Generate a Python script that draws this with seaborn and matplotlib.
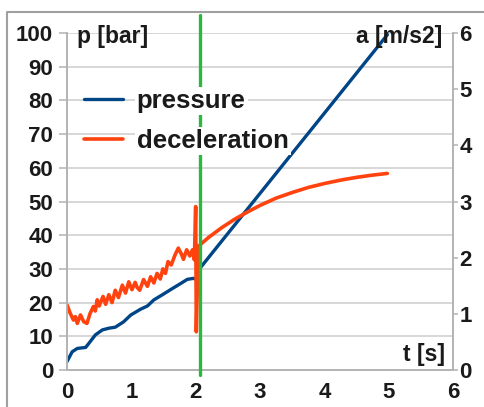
import numpy as np
import pandas as pd
import matplotlib
matplotlib.use("Agg")
import matplotlib.pyplot as plt
from matplotlib.lines import Line2D
import seaborn as sns

# Data
pressure_t = [0.00, 0.08, 0.16, 0.29, 0.36, 0.44, 0.55, 0.65, 0.75, 0.88, 0.99,
              1.14, 1.25, 1.35, 1.48, 1.64, 1.77, 1.87, 1.97, 2.01, 2.05, 4.98]
pressure_bar = [2.5, 5.4, 6.4, 6.7, 8.4, 10.4, 11.9, 12.4, 12.7, 14.3, 16.3,
                18.0, 19.0, 20.8, 22.3, 24.2, 25.7, 26.9, 27.2, 26.8, 29.8, 99.5]

decel_t = [0.00, 0.05, 0.10, 0.13, 0.16, 0.21, 0.26, 0.31, 0.36, 0.41, 0.44,
           0.47, 0.50, 0.56, 0.60, 0.65, 0.70, 0.75, 0.80, 0.86, 0.91, 0.96,
           1.01, 1.06, 1.09, 1.13, 1.19, 1.25, 1.30, 1.35, 1.40, 1.45, 1.49,
           1.53, 1.57, 1.62, 1.68, 1.73, 1.78, 1.81, 1.86, 1.91, 1.95, 1.98,
           2.00, 2.01, 2.04, 2.20, 2.40, 2.60, 2.80, 3.00, 3.25, 3.50, 3.75,
           4.00, 4.25, 4.50, 4.75, 4.98]
decel_ms2 = [1.16, 1.01, 0.89, 0.95, 0.83, 0.98, 0.86, 0.83, 1.01, 1.13, 1.05,
             1.25, 1.14, 1.31, 1.17, 1.34, 1.20, 1.42, 1.29, 1.51, 1.37, 1.57,
             1.43, 1.56, 1.47, 1.42, 1.61, 1.49, 1.66, 1.55, 1.72, 1.62, 1.80,
             1.72, 1.93, 1.87, 2.05, 2.17, 2.06, 1.97, 2.14, 2.03, 2.14, 1.96,
             2.91, 0.68, 2.20, 2.36, 2.53, 2.68, 2.81, 2.93, 3.06, 3.16, 3.25,
             3.32, 3.38, 3.43, 3.47, 3.50]

marker_t = 2.07

p_ticks = [0, 10, 20, 30, 40, 50, 60, 70, 80, 90, 100]
a_ticks = [0, 1, 2, 3, 4, 5, 6]
t_ticks = [0, 1, 2, 3, 4, 5, 6]

BLUE = "#004586"
RED = "#ff420e"
GREEN = "#2db83d"
GRID = "#d4d4d4"
SPINE = "#b3b3b3"
TXT = "#1a1a1a"

sns.set_style("white")
plt.rcParams['font.family'] = ['Liberation Sans', 'DejaVu Sans']

fig = plt.figure(figsize=(4.85, 4.07), dpi=100)
ax = fig.add_axes([67/485, 37/407, 386/485, 337/407])
ax2 = ax.twinx()

p_df = pd.DataFrame({"t": pressure_t, "p": pressure_bar})
a_df = pd.DataFrame({"t": decel_t, "a": decel_ms2})

sns.lineplot(data=p_df, x="t", y="p", ax=ax, color=BLUE, lw=2.4,
             estimator=None, sort=False)
sns.lineplot(data=a_df, x="t", y="a", ax=ax2, color=RED, lw=2.6,
             estimator=None, sort=False)
ax2.axvline(marker_t, ymin=-0.015, ymax=1.053, color=GREEN, lw=2.4,
            clip_on=False, zorder=3)

ax.set_xlim(0, 6)
ax.set_ylim(0, 100)
ax2.set_ylim(0, 6)
ax.set_xticks(t_ticks)
ax.set_yticks(p_ticks)
ax2.set_yticks(a_ticks)
ax.set_xlabel("")
ax.set_ylabel("")
ax2.set_ylabel("")

ax.grid(axis="y", color=GRID, lw=1.3)
ax.set_axisbelow(True)

for a in (ax, ax2):
    a.spines["top"].set_visible(False)
    for s in ("left", "right", "bottom"):
        a.spines[s].set_color(SPINE)
        a.spines[s].set_linewidth(1.2)

ax.tick_params(axis="y", direction="out", length=6, width=1.1, color=SPINE,
               pad=4, labelsize=16, labelcolor=TXT)
ax.tick_params(axis="x", direction="out", length=4, width=1.1, color=SPINE,
               pad=4.5, labelsize=16, labelcolor=TXT)
ax2.tick_params(axis="y", direction="out", length=3.5, width=1.1, color=SPINE,
                pad=1, labelsize=16, labelcolor=TXT)
for lab in ax.get_xticklabels() + ax.get_yticklabels() + ax2.get_yticklabels():
    lab.set_fontweight("bold")

ax2.text(0.026, 0.991, "p [bar]", transform=ax.transAxes, ha="left", va="center",
         fontsize=16.5, fontweight="bold", color=TXT, zorder=6)
ax2.text(0.9715, 0.991, "a [m/s2]", transform=ax.transAxes, ha="right", va="center",
         fontsize=16.5, fontweight="bold", color=TXT, zorder=6)
ax2.text(0.979, 0.045, "t [s]", transform=ax.transAxes, ha="right", va="center",
         fontsize=16.5, fontweight="bold", color=TXT, zorder=6)

handles = [Line2D([], [], color=BLUE, lw=2.4), Line2D([], [], color=RED, lw=2.6)]
leg = ax2.legend(handles, ["pressure", "deceleration"], loc="upper left",
                 bbox_to_anchor=(84/485, 1 - 89/407), bbox_transform=fig.transFigure,
                 frameon=False, borderpad=0, borderaxespad=0, handlelength=1.5,
                 handletextpad=0.55, labelspacing=0.62,
                 prop={"size": 18.5, "weight": "bold"})
for txt in leg.get_texts():
    txt.set_color(TXT)
    txt.set_bbox(dict(facecolor="white", edgecolor="none", pad=1.5))

# outer frame of the screenshot
fig.add_artist(Line2D([7/485, 7/485, 1.0], [0.0, 1 - 12/407, 1 - 12/407],
                      transform=fig.transFigure, color="#a0a0a0", lw=1.5))

fig.savefig("out.png", dpi=100)
